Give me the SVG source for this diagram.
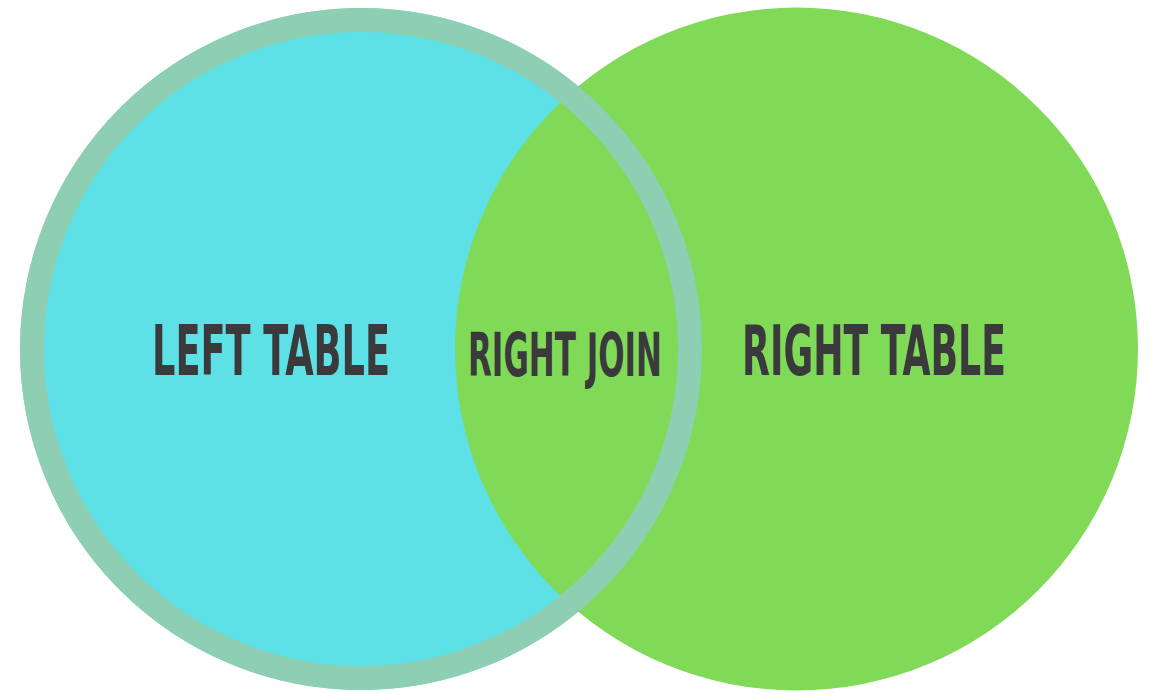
<svg xmlns="http://www.w3.org/2000/svg" width="1152" height="693" viewBox="0 0 1152 693">
  <style>
    .lbl { font-family: "Liberation Sans Narrow", "DejaVu Sans Condensed", "Liberation Sans", sans-serif; font-weight: bold; fill: #3a3a3c; }
  </style>
  <rect width="1152" height="693" fill="#ffffff"/>
  <g id="left-table">
    <circle cx="361" cy="349" r="341" fill="#5de1e6"/>
  </g>
  <g id="right-table">
    <circle cx="796.5" cy="349" r="341.5" fill="#80da58"/>
  </g>
  <g id="left-ring">
    <circle cx="361" cy="349" r="329" fill="none" stroke="#8ecfb3" stroke-width="24"/>
  </g>
  <g id="labels">
    <text id="left-label" class="lbl" x="152" y="375" font-size="70" textLength="238" lengthAdjust="spacingAndGlyphs">LEFT TABLE</text>
    <text id="join-label" class="lbl" x="468" y="376" font-size="61" textLength="194" lengthAdjust="spacingAndGlyphs">RIGHT JOIN</text>
    <text id="right-label" class="lbl" x="742" y="375" font-size="70" textLength="264" lengthAdjust="spacingAndGlyphs">RIGHT TABLE</text>
  </g>
</svg>
